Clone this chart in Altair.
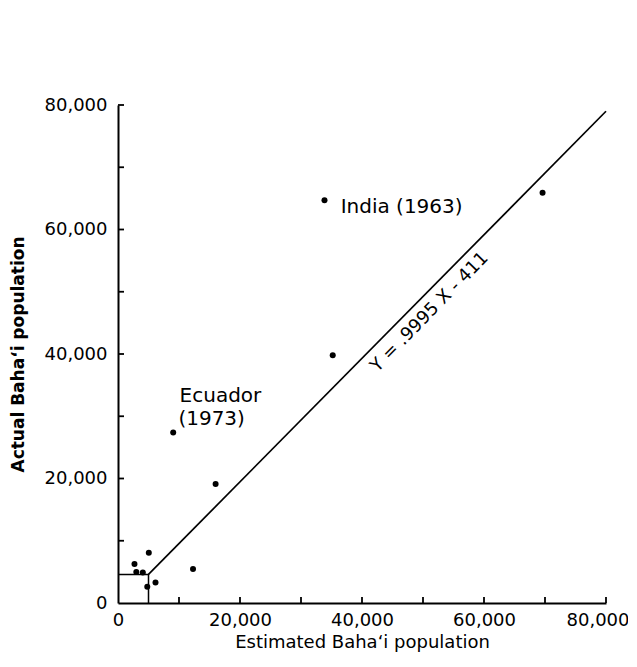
import altair as alt
import pandas as pd

# Points (estimated vs. actual Baha'i population)
estimated = [2700, 3000, 4070, 4800, 5050, 6150, 12300, 16000, 9050, 33850, 35200, 69600]
actual = [6260, 5000, 4900, 2600, 8080, 3300, 5460, 19100, 27400, 64700, 39800, 65900]

# Regression line Y = .9995 X - 411 (drawn from x = 5,000 to the top right)
line_x = [5000, 80000]
line_y = [4586, 79000]

# Small box in the lower-left corner
box_x = [0, 5000]
box_y = [4586, 4586]

# Axis ticks
label_ticks = [0, 20000, 40000, 60000, 80000]
minor_ticks = [10000, 20000, 30000, 40000, 50000, 60000, 70000, 80000]

# Annotations
ann_text = ["India (1963)", "Ecuador", "(1973)"]
ann_x = [36500, 10100, 9900]
ann_y = [62650, 32300, 28600]

eq_text = ["Y = .9995 X - 411"]
eq_x = [51100]
eq_y = [46700]

FONT = "DejaVu Sans"
W, H = 488, 498

xs = alt.Scale(domain=[0, 80000], nice=False, zero=True)
ys = alt.Scale(domain=[0, 80000], nice=False, zero=True)

pts = pd.DataFrame({"est": estimated, "act": actual})
line_df = pd.DataFrame({"x": line_x, "y": line_y})
box_df = pd.DataFrame({"x": [box_x[0], box_x[1], box_x[1]], "y": [box_y[0], box_y[1], 0]})
xt = pd.DataFrame({"v": minor_ticks})
yt = pd.DataFrame({"v": minor_ticks})
ann = pd.DataFrame({"t": ann_text, "x": ann_x, "y": ann_y})
eq = pd.DataFrame({"t": eq_text, "x": eq_x, "y": eq_y})

x_axis = alt.Axis(
    values=label_ticks, format=",d", ticks=False, tickSize=0, grid=False,
    labelFont=FONT, labelFontSize=18, labelColor="black", labelPadding=8,
    labelFlush=False,
    labelAlign={"condition": {"test": "datum.value == 80000", "value": "right"}, "value": "center"},
    labelOffset={"condition": {"test": "datum.value == 80000", "value": 23}, "value": 0},
    domainColor="black", domainWidth=2,
    title="Estimated Baha\u2018i population", titleFont=FONT, titleFontSize=18,
    titleFontWeight="normal", titleColor="black",
    titleX=W / 2, titleY=44, titleAlign="center", titleBaseline="alphabetic",
)
y_axis = alt.Axis(
    values=label_ticks, format=",d", ticks=False, tickSize=0, grid=False,
    labelFont=FONT, labelFontSize=18, labelColor="black", labelPadding=11,
    labelFlush=False,
    domainColor="black", domainWidth=2,
    title="Actual Baha\u2018i population", titleFont=FONT, titleFontSize=17,
    titleFontWeight="bold", titleColor="black",
    titleX=-100, titleY=H / 2, titleAngle=270, titleAlign="center",
    titleBaseline="middle",
)

points = alt.Chart(pts).mark_circle(color="black", size=36, opacity=1).encode(
    x=alt.X("est:Q", scale=xs, axis=x_axis),
    y=alt.Y("act:Q", scale=ys, axis=y_axis),
)

reg = alt.Chart(line_df).mark_line(color="black", strokeWidth=1.7).encode(
    x=alt.X("x:Q", scale=xs), y=alt.Y("y:Q", scale=ys)
)

box = alt.Chart(box_df).mark_line(color="black", strokeWidth=1.5).encode(
    x=alt.X("x:Q", scale=xs), y=alt.Y("y:Q", scale=ys), order=alt.Order("x:Q")
)

xticks = alt.Chart(xt).mark_rule(color="black", strokeWidth=1.8).encode(
    x=alt.X("v:Q", scale=xs), y=alt.value(H), y2=alt.value(H - 6)
)
yticks = alt.Chart(yt).mark_rule(color="black", strokeWidth=1.8).encode(
    y=alt.Y("v:Q", scale=ys), x=alt.value(0), x2=alt.value(6)
)

ann_marks = alt.Chart(ann).mark_text(
    font=FONT, fontSize=20, align="left", baseline="alphabetic", color="black"
).encode(x=alt.X("x:Q", scale=xs), y=alt.Y("y:Q", scale=ys), text="t:N")

eq_mark = alt.Chart(eq).mark_text(
    font=FONT, fontSize=18, align="center", baseline="middle", color="black",
    angle=314.5,
).encode(x=alt.X("x:Q", scale=xs), y=alt.Y("y:Q", scale=ys), text="t:N")

chart = (
    alt.layer(points, reg, box, xticks, yticks, ann_marks, eq_mark)
    .properties(
        width=W, height=H,
        autosize=alt.AutoSizeParams(type="none"),
        padding={"left": 110, "top": 97, "right": 22, "bottom": 56},
        background="white",
    )
    .configure_view(stroke=None)
)

chart.save("out.html", embed_options={"renderer": "svg", "actions": False})
